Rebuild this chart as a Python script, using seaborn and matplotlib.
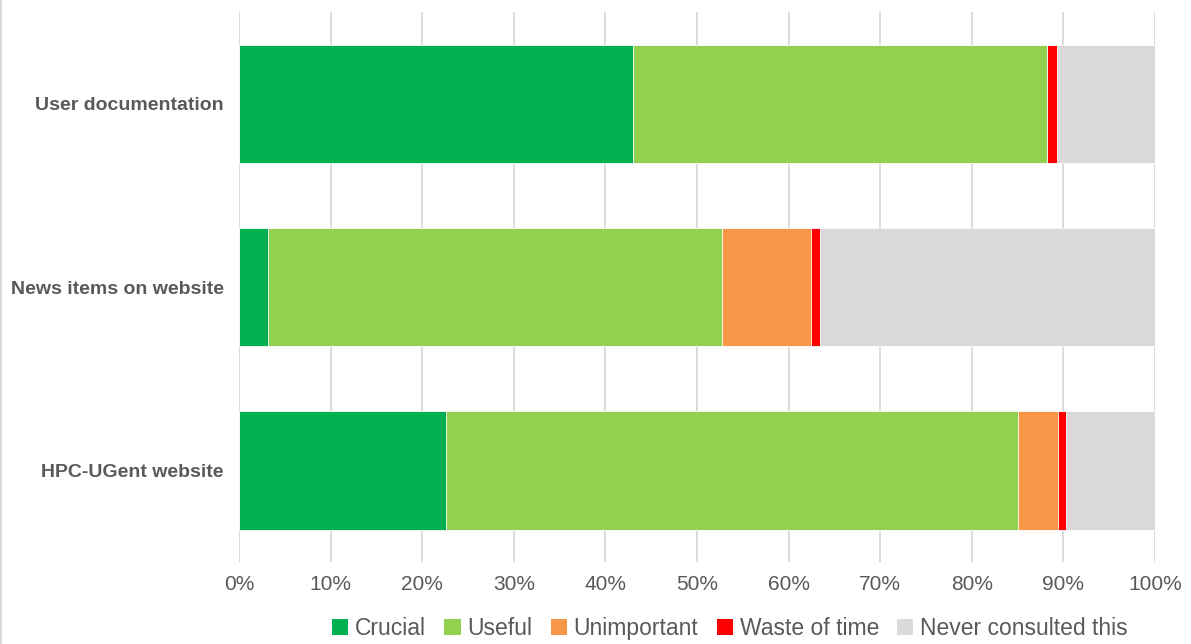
import pandas as pd
import numpy as np
import seaborn as sns
import matplotlib.pyplot as plt
from matplotlib.patches import Patch
from matplotlib.ticker import PercentFormatter

# Survey data (percent of respondents)
categories = ["User documentation", "News items on website", "HPC-UGent website"]
series = ["Crucial", "Useful", "Unimportant", "Waste of time", "Never consulted this"]
crucial = [43.0, 3.2, 22.6]
useful = [45.2, 49.5, 62.4]
unimportant = [0.0, 9.8, 4.4]
waste = [1.1, 0.9, 0.9]
never = [10.7, 36.6, 9.7]
colors = ["#00B050", "#92D050", "#F79646", "#FF0000", "#D9D9D9"]

df = pd.DataFrame({
    "Category": categories,
    "Crucial": crucial,
    "Useful": useful,
    "Unimportant": unimportant,
    "Waste of time": waste,
    "Never consulted this": never,
})
cum = df[series].cumsum(axis=1)
cum["Category"] = df["Category"]

sns.set_style("white")
plt.rcParams["font.family"] = ["Liberation Sans", "DejaVu Sans"]

fig = plt.figure(figsize=(11.91, 6.44), dpi=100)
ax = fig.add_axes([0.2007, 0.127, 0.769, 0.854])

# stacked bars: draw cumulative totals from the back to the front
for name, col in reversed(list(zip(series, colors))):
    sns.barplot(data=cum, x=name, y="Category", order=categories, color=col,
                width=0.645, edgecolor="white", linewidth=0.6, ax=ax,
                orient="h", saturation=1)

ax.set_xlim(0, 100)
ax.set_xticks(np.arange(0, 101, 10))
ax.xaxis.set_major_formatter(PercentFormatter(decimals=0))
ax.set_xlabel("")
ax.set_ylabel("")
ax.grid(axis="x", color="#D9D9D9", linewidth=1.3)
ax.set_axisbelow(True)
sns.despine(ax=ax, left=True, bottom=True)
ax.tick_params(axis="x", length=0, labelsize=15, labelcolor="#595959", pad=9)
ax.tick_params(axis="y", length=0, labelsize=14, labelcolor="#595959", pad=11)
for t in ax.get_yticklabels():
    t.set_fontweight("bold")

handles = [Patch(facecolor=c, edgecolor="none") for c in colors]
fig.legend(handles, series, loc="center", bbox_to_anchor=(0.613, 0.024), ncol=5,
           frameon=False, fontsize=16.5, handlelength=0.7, handleheight=0.7,
           handletextpad=0.3, columnspacing=0.8, labelcolor="#595959")

fig.add_artist(plt.Line2D([0.001, 0.001], [0, 1], color="#D9D9D9", linewidth=1.5))

fig.savefig("out.png", dpi=100)
